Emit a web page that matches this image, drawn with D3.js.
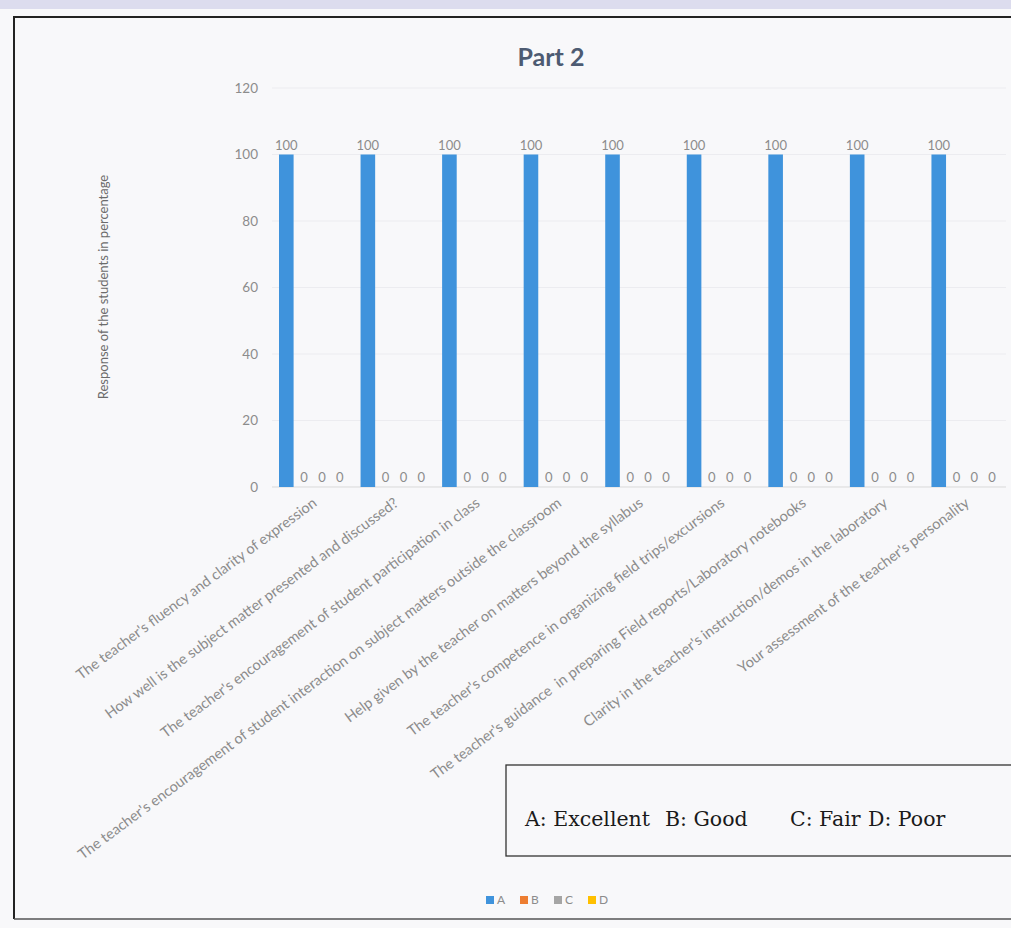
<!DOCTYPE html>
<html><head><meta charset="utf-8">
<script src="https://cdn.jsdelivr.net/npm/d3@7"></script>
<style>
html,body{margin:0;padding:0;background:#f8f8fa;}
svg{display:block;}
</style></head>
<body>
<script>
const categories = [
  "The teacher's fluency and clarity of expression",
  "How well is the subject matter presented and discussed?",
  "The teacher's encouragement of student participation in class",
  "The teacher's encouragement of student interaction on subject matters outside the classroom",
  "Help given by the teacher on matters beyond the syllabus",
  "The teacher's competence in organizing field trips/excursions",
  "The teacher's guidance  in preparing Field reports/Laboratory notebooks",
  "Clarity in the teacher's instruction/demos in the laboratory",
  "Your assessment of the teacher's personality"
];
const seriesNames = ["A", "B", "C", "D"];
const valuesA = [100, 100, 100, 100, 100, 100, 100, 100, 100];
const valuesB = [0, 0, 0, 0, 0, 0, 0, 0, 0];
const valuesC = [0, 0, 0, 0, 0, 0, 0, 0, 0];
const valuesD = [0, 0, 0, 0, 0, 0, 0, 0, 0];
const yTicks = [0, 20, 40, 60, 80, 100, 120];
const colors = {A: "#3f93dc", B: "#ed7d31", C: "#a5a5a5", D: "#ffc000"};
const legendNote = ["A: Excellent", "B: Good", "C: Fair", "D: Poor"];

const W = 1011, H = 928;
const FONT = "Lato, 'Open Sans', sans-serif";
const svg = d3.select("body").append("svg").attr("width", W).attr("height", H);

// background / frame
svg.append("rect").attr("x",0).attr("y",0).attr("width",W).attr("height",H).attr("fill","#f8f8fa");
svg.append("rect").attr("x",0).attr("y",0).attr("width",W).attr("height",9).attr("fill","#dcdcee");
svg.append("path").attr("d",`M14,919 L14,17 L${W},17`).attr("fill","none").attr("stroke","#222").attr("stroke-width",2);
svg.append("line").attr("x1",14).attr("x2",W).attr("y1",919).attr("y2",919).attr("stroke","#555").attr("stroke-width",1.5);

const series = seriesNames.map((s,i)=>({key:s, values:[valuesA,valuesB,valuesC,valuesD][i]}));

const x0 = d3.scaleBand().domain(categories).range([272, 1006]).padding(0);
const x1 = d3.scaleBand().domain(seriesNames).range([7, 75]).paddingInner(0.18);
const y = d3.scaleLinear().domain([0, 120]).range([487, 88]);

// gridlines
svg.append("g").selectAll("line").data(yTicks).join("line")
  .attr("x1", 272).attr("x2", 1006)
  .attr("y1", d=>y(d)).attr("y2", d=>y(d))
  .attr("stroke", d=> d===0 ? "#d9d9d9" : "#ececf0").attr("stroke-width",1);

// y axis labels
const yAxis = d3.axisLeft(y).tickValues(yTicks).tickSize(0).tickPadding(0);
const gy = svg.append("g").attr("transform","translate(258,0)").call(yAxis);
gy.select(".domain").remove();
gy.selectAll("text").attr("font-family",FONT).attr("font-size",13.5).attr("fill","#8c8c8c");

// bars
const groups = svg.append("g").selectAll("g").data(categories).join("g")
  .attr("transform", d=>`translate(${x0(d)},0)`);
groups.selectAll("rect").data((d,i)=>series.map(s=>({key:s.key, v:s.values[i]}))).join("rect")
  .attr("x", d=>x1(d.key)).attr("width", x1.bandwidth())
  .attr("y", d=>y(d.v)).attr("height", d=>y(0)-y(d.v))
  .attr("fill", d=>colors[d.key]);
groups.selectAll("text").data((d,i)=>series.map(s=>({key:s.key, v:s.values[i]}))).join("text")
  .attr("x", d=>x1(d.key)+x1.bandwidth()/2).attr("y", d=>y(d.v)-5)
  .attr("text-anchor","middle")
  .attr("font-family",FONT).attr("font-size",13).attr("fill","#8c8c8c")
  .text(d=>d.v);

// x labels
svg.append("g").selectAll("text").data(categories).join("text")
  .attr("transform", d=>`translate(${x0(d)+x0.bandwidth()/2+5},505) rotate(-36.5)`)
  .attr("text-anchor","end")
  .attr("font-family",FONT).attr("font-size",14.6).attr("fill","#8c8c8c")
  .style("white-space","pre")
  .text(d=>d);

// y title
svg.append("text").attr("transform","translate(108,287) rotate(-90)")
  .attr("text-anchor","middle")
  .attr("font-family",FONT).attr("font-size",13).attr("fill","#6b6b6b")
  .text("Response of the students in percentage");

// title
svg.append("text").attr("x",551).attr("y",66).attr("text-anchor","middle")
  .attr("font-family",FONT).attr("font-weight","bold").attr("font-size",25).attr("fill","#4d5b72")
  .text("Part 2");

// note box
svg.append("rect").attr("x",506).attr("y",765).attr("width",W-506+5).attr("height",91)
  .attr("fill","none").attr("stroke","#333").attr("stroke-width",1.3);
const noteX = [525, 665, 790, 868];
svg.append("g").selectAll("text").data(legendNote).join("text")
  .attr("x",(d,i)=>noteX[i]).attr("y",826)
  .attr("font-family","'DejaVu Serif', serif").attr("font-size",20.5).attr("fill","#1a1a1a")
  .text(d=>d);

// legend
const lg = svg.append("g").selectAll("g").data(seriesNames).join("g")
  .attr("transform",(d,i)=>`translate(${486+i*34},896)`);
lg.append("rect").attr("width",8).attr("height",8).attr("fill",d=>colors[d]);
lg.append("text").attr("x",11).attr("y",8).attr("font-family",FONT).attr("font-size",12).attr("fill","#8c8c8c").text(d=>d);
</script>
</body></html>
